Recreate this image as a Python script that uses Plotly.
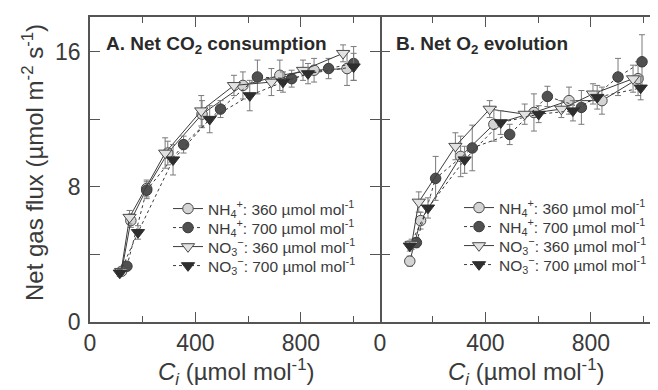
import plotly.graph_objects as go

# ---------------- data ----------------
# Panel A: Net CO2 consumption
A_NH4_360_X = [120, 155, 215, 295, 425, 580, 720, 850, 975]
A_NH4_360_Y = [3.0, 6.0, 7.9, 10.0, 12.3, 14.0, 14.6, 14.9, 15.0]
A_NH4_360_E = [0.2, 0.4, 0.5, 0.7, 0.8, 0.8, 0.9, 0.7, 1.0]

A_NH4_700_X = [140, 215, 355, 495, 635, 765, 905, 1000]
A_NH4_700_Y = [3.3, 7.8, 10.5, 12.6, 14.5, 14.4, 15.0, 15.3]
A_NH4_700_E = [0.2, 0.5, 0.5, 0.5, 1.0, 0.5, 0.6, 1.0]

A_NO3_360_X = [118, 150, 285, 422, 546, 688, 808, 960]
A_NO3_360_Y = [3.0, 6.2, 10.0, 12.5, 14.0, 14.2, 14.9, 15.9]
A_NO3_360_E = [0.2, 0.4, 0.9, 0.9, 0.6, 0.8, 0.6, 0.5]

A_NO3_700_X = [113, 182, 315, 454, 606, 732, 827, 1000]
A_NO3_700_Y = [2.9, 5.3, 9.6, 12.0, 13.4, 14.2, 14.7, 15.1]
A_NO3_700_E = [0.2, 0.4, 0.9, 0.8, 0.9, 0.6, 0.6, 0.8]

# Panel B: Net O2 evolution
B_NH4_360_X = [113, 154, 306, 432, 584, 717, 842, 979]
B_NH4_360_Y = [3.6, 6.0, 9.8, 11.7, 12.4, 13.1, 13.1, 14.4]
B_NH4_360_E = [0.3, 0.5, 1.2, 1.0, 1.1, 0.8, 0.8, 1.0]

B_NH4_700_X = [138, 211, 350, 492, 635, 764, 903, 994]
B_NH4_700_Y = [4.7, 8.5, 10.3, 11.1, 13.35, 12.7, 14.5, 15.4]
B_NH4_700_E = [0.3, 1.3, 1.35, 0.6, 0.6, 1.0, 1.1, 1.6]

B_NO3_360_X = [120, 147, 286, 416, 549, 688, 808, 960]
B_NO3_360_Y = [4.6, 7.1, 10.4, 12.6, 12.3, 12.6, 13.5, 14.4]
B_NO3_360_E = [0.3, 0.6, 0.8, 0.5, 0.6, 0.5, 0.6, 0.8]

B_NO3_700_X = [113, 182, 321, 458, 602, 732, 824, 989]
B_NO3_700_Y = [4.5, 6.75, 9.6, 11.8, 12.3, 12.5, 13.3, 13.85]
B_NO3_700_E = [0.3, 0.6, 0.8, 0.7, 0.5, 0.6, 0.7, 0.7]

LEGEND_NAMES = [
    "NH<sub>4</sub><sup>+</sup>: 360 µmol mol<sup>-1</sup>",
    "NH<sub>4</sub><sup>+</sup>: 700 µmol mol<sup>-1</sup>",
    "NO<sub>3</sub><sup>−</sup>: 360 µmol mol<sup>-1</sup>",
    "NO<sub>3</sub><sup>−</sup>: 700 µmol mol<sup>-1</sup>",
]
PANEL_TITLES = ["<b>A. Net CO<sub>2</sub> consumption</b>", "<b>B. Net O<sub>2</sub> evolution</b>"]
X_TICKS = [0, 400, 800]
X_MINOR = [200, 600, 1000]
Y_TICKS = [0, 8, 16]
Y_MINOR = [4, 12]
Y_TITLE = "Net gas flux (µmol m<sup>-2</sup> s<sup>-1</sup>)"
X_TITLE = "<i>C</i><sub><i>i</i></sub> (µmol mol<sup>-1</sup>)"

FONT = "Liberation Sans, Arial, sans-serif"
TXT = "#3a3a3a"
AX = "#555555"

styles = [
    dict(symbol="circle", size=10.5, color="#d4d4d4", line=dict(color="#4a4a4a", width=1), dash="solid"),
    dict(symbol="circle", size=10.5, color="#505050", line=dict(color="#3a3a3a", width=1), dash="dot"),
    dict(symbol="triangle-down", size=11.5, color="#e2e2e2", line=dict(color="#4a4a4a", width=1), dash="solid"),
    dict(symbol="triangle-down", size=11.5, color="#2e2e2e", line=dict(color="#2e2e2e", width=1), dash="dot"),
]

panelA = [(A_NH4_360_X, A_NH4_360_Y, A_NH4_360_E), (A_NH4_700_X, A_NH4_700_Y, A_NH4_700_E),
          (A_NO3_360_X, A_NO3_360_Y, A_NO3_360_E), (A_NO3_700_X, A_NO3_700_Y, A_NO3_700_E)]
panelB = [(B_NH4_360_X, B_NH4_360_Y, B_NH4_360_E), (B_NH4_700_X, B_NH4_700_Y, B_NH4_700_E),
          (B_NO3_360_X, B_NO3_360_Y, B_NO3_360_E), (B_NO3_700_X, B_NO3_700_Y, B_NO3_700_E)]

L, T, B = 82, 9, 76
W, H = 658, 390
pw = W - L
ph = H - T - B
splitA = 290 / pw


def px_x(p):
    return (p - L) / pw


def px_y(p):
    return (H - B - p) / ph


# legend row layout (pixel positions of each entry row)
LEG_LEFT = {"A": 160, "B": 451}
LEG_ROWS = {"A": [201, 220, 239, 258], "B": [200, 219, 238, 257]}

fig = go.Figure()
legend_layouts = {}
k = 0
for tag, panel, xa, ya in [("A", panelA, "x", "y"), ("B", panelB, "x2", "y2")]:
    for si, (xs, ys, es) in enumerate(panel):
        k += 1
        lname = "legend" if k == 1 else f"legend{k}"
        st = styles[si]
        fig.add_trace(go.Scatter(
            x=xs, y=ys, xaxis=xa, yaxis=ya, legend=lname,
            name=LEGEND_NAMES[si], mode="lines+markers",
            line=dict(color="#3c3c3c", width=1, dash=st["dash"]),
            marker=dict(symbol=st["symbol"], size=st["size"], color=st["color"], line=st["line"]),
            error_y=dict(type="data", array=es, visible=True, thickness=1, width=3, color="#7a7a7a"),
        ))
        legend_layouts[lname] = dict(
            x=px_x(LEG_LEFT[tag]), y=px_y(LEG_ROWS[tag][si]), xanchor="left", yanchor="middle",
            bgcolor="rgba(0,0,0,0)", font=dict(family=FONT, size=15.5, color=TXT),
            itemwidth=30, tracegroupgap=0,
        )

common_x = dict(showline=True, linecolor=AX, linewidth=1.5, mirror="ticks", automargin=False,
                ticks="inside", ticklen=10, tickwidth=1.3, tickcolor=AX,
                tickvals=X_TICKS, showgrid=False, zeroline=False,
                tickfont=dict(family=FONT, size=23, color=TXT),
                minor=dict(tickvals=X_MINOR, ticks="inside", ticklen=6, tickcolor=AX, tickwidth=1.3),
                ticklabelstandoff=0)

fig.update_layout(
    width=W, height=H,
    margin=dict(l=L, r=0, t=T, b=B, autoexpand=False),
    paper_bgcolor="white", plot_bgcolor="white",
    xaxis=dict(domain=[0, splitA], range=[0, 1100], **common_x),
    xaxis2=dict(domain=[splitA, 1], range=[0, 1085], anchor="y2", **common_x),
    yaxis=dict(domain=[0, 1], range=[0, 18.05], showline=True, linecolor=AX, linewidth=1.5, mirror="ticks",
               automargin=False, ticks="inside", ticklen=10, tickwidth=1.3, tickcolor=AX,
               tickvals=Y_TICKS, showgrid=False, zeroline=False,
               minor=dict(tickvals=Y_MINOR, ticks="inside", ticklen=10, tickcolor=AX, tickwidth=1.3),
               tickfont=dict(family=FONT, size=23, color=TXT), ticklabelstandoff=3),
    yaxis2=dict(domain=[0, 1], range=[0, 18.05], anchor="x2", showline=False, automargin=False,
                mirror="ticks", ticks="inside", ticklen=10, tickwidth=1.3, tickcolor=AX,
                tickvals=Y_TICKS, showticklabels=False, showgrid=False, zeroline=False,
                minor=dict(tickvals=Y_MINOR, ticks="inside", ticklen=10, tickcolor=AX, tickwidth=1.3)),
    showlegend=True,
    annotations=[
        dict(text=PANEL_TITLES[0], xref="paper", yref="paper", x=px_x(96), y=px_y(37),
             xanchor="left", yanchor="middle", showarrow=False, font=dict(family=FONT, size=19, color="#2a2a2a")),
        dict(text=PANEL_TITLES[1], xref="paper", yref="paper", x=px_x(386), y=px_y(37),
             xanchor="left", yanchor="middle", showarrow=False, font=dict(family=FONT, size=19, color="#2a2a2a")),
        dict(text=Y_TITLE, xref="paper", yref="paper", x=px_x(25), y=px_y(155), textangle=-90,
             xanchor="center", yanchor="middle", showarrow=False, font=dict(family=FONT, size=24, color=TXT)),
        dict(text=X_TITLE, xref="paper", yref="paper", x=px_x(228), y=px_y(364),
             xanchor="center", yanchor="middle", showarrow=False, font=dict(family=FONT, size=24, color=TXT)),
        dict(text=X_TITLE, xref="paper", yref="paper", x=px_x(518), y=px_y(364),
             xanchor="center", yanchor="middle", showarrow=False, font=dict(family=FONT, size=24, color=TXT)),
    ],
    **legend_layouts,
)

fig.write_html("out.html")
